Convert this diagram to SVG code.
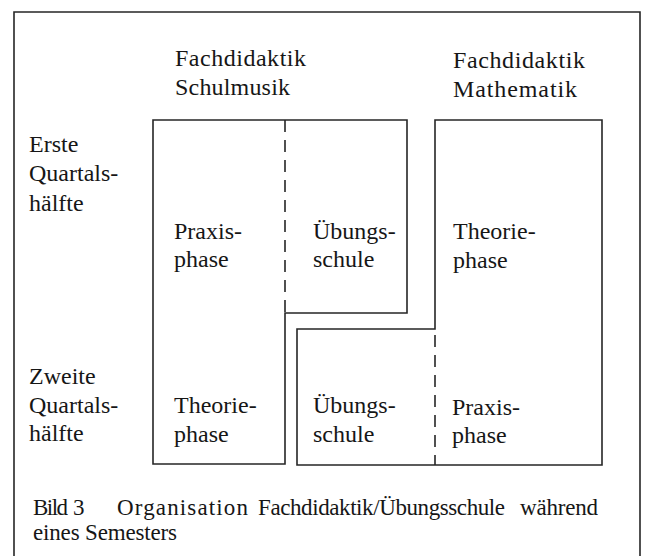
<svg xmlns="http://www.w3.org/2000/svg" width="646" height="556" viewBox="0 0 646 556">
<style>
text{font-family:"Liberation Serif","Times New Roman",serif;fill:#161616;font-size:24px}
.cap{font-size:23px}
.ln{fill:none;stroke:#262626;stroke-width:1.6}
.dash{fill:none;stroke:#262626;stroke-width:1.6;stroke-dasharray:12 8}
</style>
<rect width="646" height="556" fill="#fff"/>
<g id="frame"><path class="ln" d="M14,560 V12 H640 V560"/></g>
<g id="headers">
<text x="175" y="66" textLength="131">Fachdidaktik</text>
<text x="175" y="95" textLength="115">Schulmusik</text>
<text x="453" y="68" textLength="132">Fachdidaktik</text>
<text x="453" y="97" textLength="124">Mathematik</text>
</g>
<g id="rows">
<text x="29" y="152">Erste</text>
<text x="29" y="181">Quartals-</text>
<text x="29" y="211">hälfte</text>
<text x="29" y="384">Zweite</text>
<text x="29" y="413">Quartals-</text>
<text x="29" y="441">hälfte</text>
</g>
<g id="schulmusik">
<path class="ln" d="M153,120 H407 V313 H285 V464 H153 Z"/>
<text x="174" y="239">Praxis-</text>
<text x="174" y="267">phase</text>
<text x="313" y="239">Übungs-</text>
<text x="313" y="267">schule</text>
<text x="174" y="413">Theorie-</text>
<text x="174" y="442">phase</text>
</g>
<g id="mathematik">
<path class="ln" d="M435,120 H602 V465 H297 V329 H435 Z"/>
<text x="453" y="239">Theorie-</text>
<text x="453" y="268">phase</text>
<text x="313" y="413">Übungs-</text>
<text x="313" y="442">schule</text>
<text x="452" y="415">Praxis-</text>
<text x="452" y="443">phase</text>
</g>
<g id="connectors">
<line class="dash" x1="285" y1="120" x2="285" y2="313"/>
<line class="dash" x1="435" y1="335" x2="435" y2="465"/>
</g>
<g id="caption">
<text class="cap" x="33" y="515" textLength="35">Bild</text>
<text class="cap" x="73" y="515">3</text>
<text class="cap" x="117" y="515" textLength="131">Organisation</text>
<text class="cap" x="258" y="515" textLength="247">Fachdidaktik/Übungsschule</text>
<text class="cap" x="520" y="515" textLength="78">während</text>
<text class="cap" x="33" y="540" textLength="144">eines Semesters</text>
</g>
</svg>
